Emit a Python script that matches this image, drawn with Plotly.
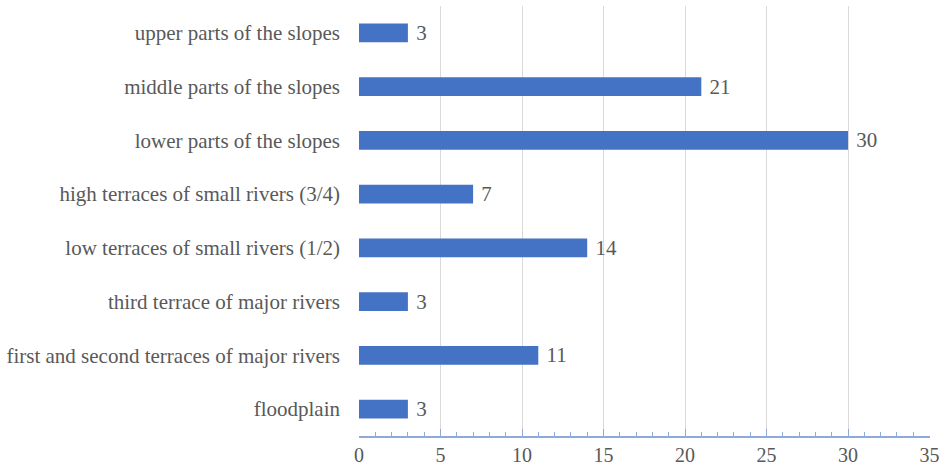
import plotly.graph_objects as go

categories = [
    "floodplain",
    "first and second terraces of major rivers",
    "third terrace of major rivers",
    "low terraces of small rivers (1/2)",
    "high terraces of small rivers (3/4)",
    "lower parts of the slopes",
    "middle parts of the slopes",
    "upper parts of the slopes",
]
values = [3, 11, 3, 14, 7, 30, 21, 3]
x_ticks = [0, 5, 10, 15, 20, 25, 30, 35]

font_family = "Times New Roman, Liberation Serif, serif"
text_color = "#595959"

fig = go.Figure(
    go.Bar(
        y=categories,
        x=values,
        orientation="h",
        marker=dict(color="#4472C4", line=dict(width=0)),
        width=0.35,
        text=[" " + str(v) for v in values],
        textposition="outside",
        constraintext="none",
        textfont=dict(family=font_family, size=21, color=text_color),
        cliponaxis=False,
    )
)

fig.update_layout(
    width=940,
    height=468,
    margin=dict(l=359, r=10, t=6, b=32, autoexpand=False),
    paper_bgcolor="white",
    plot_bgcolor="white",
    showlegend=False,
    font=dict(family=font_family, color=text_color),
)

fig.update_xaxes(
    range=[0, 35.03],
    tickvals=x_ticks,
    ticktext=[str(t) for t in x_ticks],
    tickfont=dict(family=font_family, size=20, color=text_color),
    showgrid=True,
    gridcolor="#D9D9D9",
    gridwidth=1,
    zeroline=False,
    showline=True,
    linecolor="#8EA9DB",
    linewidth=1.5,
    ticks="inside",
    ticklen=7,
    tickcolor="#8EA9DB",
    tickwidth=1.2,
    automargin=False,
    minor=dict(ticks="inside", dtick=1, ticklen=4, tickcolor="#8EA9DB", tickwidth=1, showgrid=False),
)

fig.update_yaxes(
    categoryorder="array",
    categoryarray=categories,
    tickfont=dict(family=font_family, size=21, color=text_color),
    showgrid=False,
    showline=False,
    ticks="",
    automargin=False,
    ticklabelstandoff=18,
)

fig.write_html(
    "out.html",
    config={"displayModeBar": False},
    post_script="document.body.style.margin='0';document.body.style.padding='0';",
)
